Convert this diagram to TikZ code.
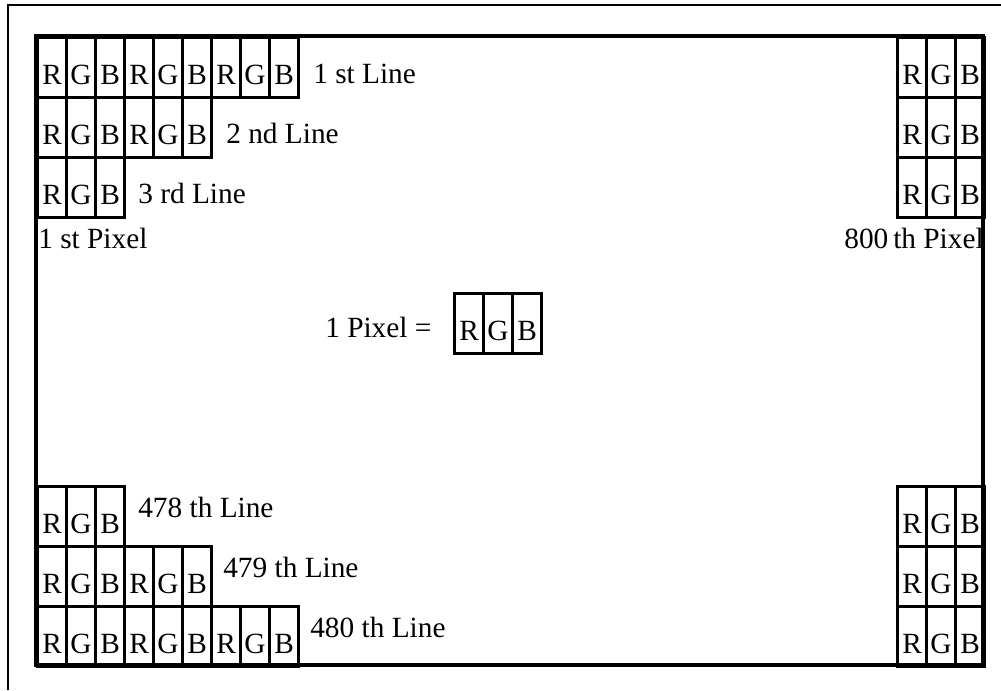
\documentclass[tikz,border=0pt]{standalone}
\usepackage{fontspec}
\setmainfont{Liberation Serif}

\tikzset{
  cell/.style={draw, line width=2.3pt, minimum width=21.75pt, minimum height=45pt,
    inner sep=0pt, anchor=north west, text height=25.5pt, text depth=0pt},
  lbl/.style={inner sep=0pt, anchor=base west}
}

\begin{document}
\begin{tikzpicture}[x=0.75pt,y=0.75pt,yscale=-1,xscale=1,font=\fontsize{22}{26}\selectfont]
\useasboundingbox (0,0) rectangle (1001,690);
% screen frame
\draw [line width=1.6pt] (8,690) -- (8,5) -- (1001,5) ;
\draw [line width=2.3pt] (36,36) rectangle (983,665) ;
% left side lines
\foreach \r/\np/\y in {a/3/36,b/2/96,c/1/156,d/1/485,e/2/545,f/3/605}
  \foreach \p in {1,...,\np}
    \foreach \c/\t in {0/R,1/G,2/B}
      \node [cell] (\r\p\t) at ({36+87*(\p-1)+29*\c},\y) {\t};
% right side, 800 th pixel
\foreach \r/\y in {g/36,h/96,i/156,j/485,k/545,l/605}
  \foreach \c/\t in {0/R,1/G,2/B}
    \node [cell] (\r\t) at ({896+29*\c},\y) {\t};
% one pixel
\foreach \c/\t in {0/R,1/G,2/B}
  \node [cell] (pix\t) at ({453+29*\c},292) {\t};
% labels
\node [lbl] (line1) at (313,83) {1 st Line};
\node [lbl] (line2) at (226,143) {2 nd Line};
\node [lbl] (line3) at (138,203) {3 rd Line};
\node [lbl] (pixfirst) at (38,248) {1 st Pixel};
\node [lbl, anchor=base east] (pixlast) at (984,248) {800\,th Pixel};
\node [lbl] (pixeq) at (325,337) {1 Pixel =};
\node [lbl] (line478) at (138,517) {478 th Line};
\node [lbl] (line479) at (223,577) {479 th Line};
\node [lbl] (line480) at (310,637) {480 th Line};
\end{tikzpicture}
\end{document}
